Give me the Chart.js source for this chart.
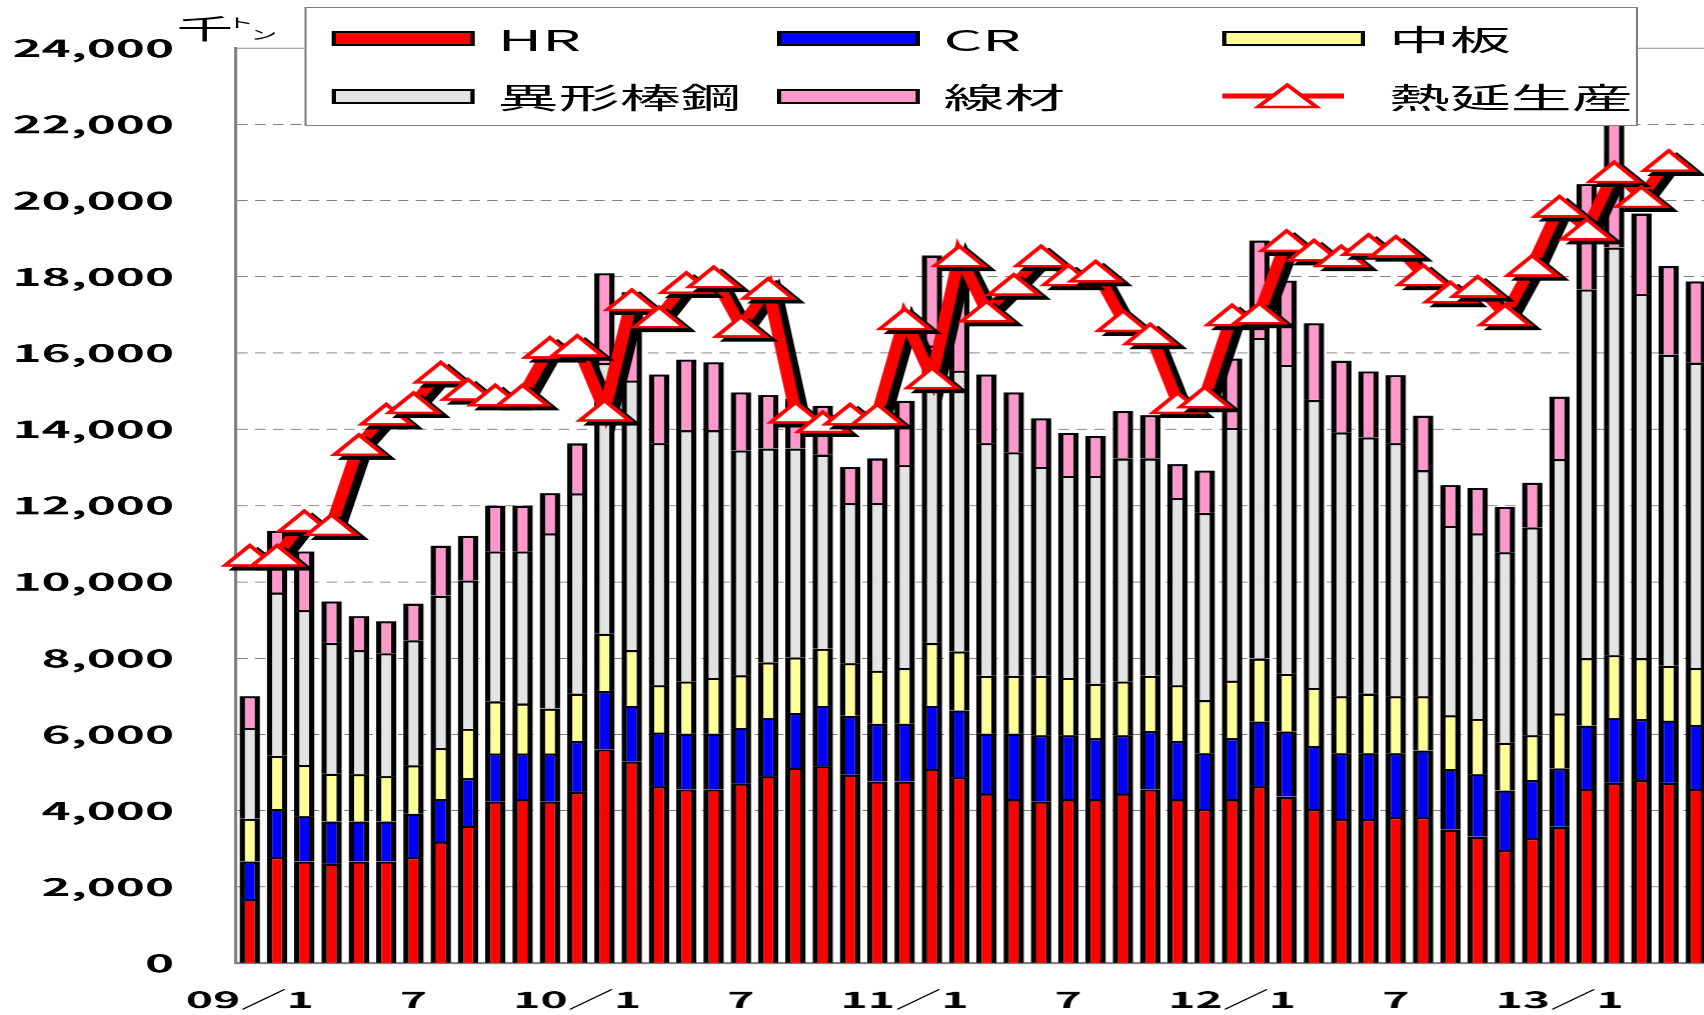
<!DOCTYPE html>
<html lang="ja">
<head>
<meta charset="utf-8">
<script src="https://cdn.jsdelivr.net/npm/chart.js@4.4.1/dist/chart.umd.min.js"></script>
<style>
  html, body { margin: 0; padding: 0; width: 1704px; height: 1015px; overflow: hidden; background: #fff; }
  /* the original chart is stretched sideways, so the whole stage is drawn narrow and scaled in x */
  #stage { position: absolute; left: 0; top: 0; width: 816px; height: 1015px;
           transform: scaleX(2.1); transform-origin: 0 0;
           font-family: "Noto Sans CJK JP", sans-serif; color: #000; }
  #chart { position: absolute; left: 0; top: 0; }
  #unit { position: absolute; left: 84px; top: 14px; font-size: 27px; line-height: 27px; }
  #unit span { position: absolute; font-size: 13px; line-height: 13px; }
  #legend { position: absolute; left: 145.4px; top: 6.5px; width: 634.5px; height: 119.5px;
            box-sizing: border-box; border: 1px solid #808080; background: #fff;
            display: grid; grid-template-columns: repeat(3, 212.2px); grid-template-rows: 58px 58px;
            padding: 1.5px 0 0 11.5px; }
  .item { display: flex; align-items: center; }
  .swatch { width: 68.2px; height: 15px; box-sizing: border-box; border: 2px solid #000; border-width: 2.5px 2px; }
  .label { margin-left: 11px; font-size: 29px; line-height: 1; white-space: nowrap; }
</style>
</head>
<body>
<div id="stage">
  <canvas id="chart" width="816" height="1015"></canvas>
  <div id="unit">千<span style="left:24px;top:1px">ト</span><span style="left:35px;top:13px">ン</span></div>
  <div id="legend"></div>
</div>
<script>
// 月 (09/1 ～ 13/6)
const categories = [
  '09/1','09/2','09/3','09/4','09/5','09/6','09/7','09/8','09/9','09/10','09/11','09/12',
  '10/1','10/2','10/3','10/4','10/5','10/6','10/7','10/8','10/9','10/10','10/11','10/12',
  '11/1','11/2','11/3','11/4','11/5','11/6','11/7','11/8','11/9','11/10','11/11','11/12',
  '12/1','12/2','12/3','12/4','12/5','12/6','12/7','12/8','12/9','12/10','12/11','12/12',
  '13/1','13/2','13/3','13/4','13/5','13/6'
];
// 軸に出す目盛ラベル
const xTickLabels = {
  '09/1': '09／1', '09/7': '7', '10/1': '10／1', '10/7': '7', '11/1': '11／1',
  '11/7': '7', '12/1': '12／1', '12/7': '7', '13/1': '13／1'
};

// 千トン
const hr = [1690, 2780, 2670, 2610, 2670, 2670, 2780, 3190, 3600, 4240, 4300, 4240,
  4490, 5610, 5290, 4640, 4560, 4560, 4710, 4910, 5120, 5170, 4940, 4770,
  4770, 5100, 4880, 4450, 4300, 4240, 4300, 4300, 4450, 4560, 4300, 4040,
  4300, 4640, 4370, 4040, 3780, 3780, 3830, 3830, 3510, 3320, 2970, 3280,
  3580, 4570, 4730, 4800, 4730, 4570];
const cr = [980, 1270, 1190, 1110, 1050, 1050, 1140, 1120, 1250, 1260, 1200, 1260,
  1340, 1530, 1460, 1410, 1460, 1460, 1460, 1520, 1440, 1580, 1550, 1510,
  1510, 1650, 1750, 1570, 1720, 1740, 1680, 1600, 1530, 1530, 1530, 1470,
  1600, 1700, 1710, 1660, 1730, 1730, 1680, 1750, 1590, 1640, 1560, 1520,
  1530, 1660, 1700, 1600, 1630, 1680];
const plate = [1120, 1390, 1340, 1250, 1240, 1190, 1270, 1330, 1300, 1370, 1310, 1180,
  1240, 1500, 1460, 1240, 1370, 1460, 1380, 1460, 1460, 1500, 1380, 1390,
  1460, 1650, 1550, 1520, 1520, 1560, 1500, 1430, 1410, 1450, 1460, 1390,
  1510, 1650, 1510, 1520, 1490, 1560, 1490, 1420, 1400, 1450, 1250, 1180,
  1440, 1770, 1650, 1600, 1440, 1490];
const rebar = [2380, 4280, 4060, 3430, 3250, 3220, 3280, 4000, 3890, 3930, 3990, 4590,
  5250, 7100, 7070, 6350, 6590, 6500, 5900, 5610, 5480, 5090, 4200, 4400,
  5320, 7800, 7360, 6100, 5860, 5480, 5300, 5450, 5850, 5700, 4910, 4910,
  6630, 8410, 8100, 7550, 6920, 6720, 6640, 5930, 4970, 4860, 5000, 5450,
  6670, 9670, 10690, 9550, 8160, 8010];
const wireRod = [830, 1620, 1540, 1090, 890, 840, 960, 1310, 1170, 1200, 1200, 1060,
  1310, 2350, 2320, 1800, 1850, 1780, 1520, 1400, 1300, 1280, 950, 1170,
  1690, 2360, 2400, 1800, 1570, 1270, 1130, 1050, 1240, 1130, 890, 1110,
  1820, 2550, 2210, 2010, 1880, 1730, 1780, 1430, 1070, 1190, 1190, 1170,
  1640, 2760, 3500, 2110, 2320, 2130];
const hotRolled = [10700, 10700, 11600, 11500, 13600, 14400, 14700, 15500, 15050, 14900, 14900, 16150,
  16200, 14500, 17400, 16950, 17850, 18000, 16700, 17700, 14450, 14200, 14400, 14400,
  16900, 15350, 18550, 17100, 17800, 18550, 18050, 18150, 16850, 16500, 14700, 14850,
  17000, 17050, 18950, 18700, 18550, 18850, 18800, 18050, 17600, 17750, 17000, 18300,
  19850, 19250, 20750, 20100, 21050, null];

const yMax = 24000;
const yStep = 2000;

const fontFamily = '"Noto Sans CJK JP", sans-serif';
const clear = 'rgba(0,0,0,0)';

// 白抜き三角マーカー (影が中に入らないよう画像にする)
const triangle = new Image();
triangle.width = 28;
triangle.height = 25;
triangle.src = 'data:image/svg+xml,' + encodeURIComponent(
  '<svg xmlns="http://www.w3.org/2000/svg" width="280" height="250" viewBox="0 0 28 25">' +
  '<polygon points="14,2.7 25.8,22.7 2.2,22.7" fill="#fff" stroke="#f00" stroke-width="2.5"/></svg>');

// 熱延生産の線とマーカーに黒い影を付ける
const lineShadow = {
  id: 'lineShadow',
  beforeDatasetDraw(chart, args) {
    if (chart.data.datasets[args.index].type !== 'line') return;
    const ctx = chart.ctx;
    ctx.save();
    ctx.shadowColor = '#000';
    ctx.shadowBlur = 0;
    ctx.shadowOffsetX = 8;
    ctx.shadowOffsetY = 8;
  },
  afterDatasetDraw(chart, args) {
    if (chart.data.datasets[args.index].type !== 'line') return;
    chart.ctx.restore();
  }
};

function barSet(label, data, color) {
  return {
    type: 'bar',
    label: label,
    data: data,
    backgroundColor: color,
    borderColor: '#000',
    borderWidth: { top: 2.2, left: 2.6, right: 2.6, bottom: 0 },
    borderSkipped: 'start',
    barPercentage: 0.75,
    categoryPercentage: 1,
    order: 1
  };
}

function buildChart(marker) {
  const chart = new Chart(document.getElementById('chart'), {
    data: {
      labels: categories,
      datasets: [
        barSet('HR', hr, '#ff0000'),
        barSet('CR', cr, '#0000ff'),
        barSet('中板', plate, '#ffff99'),
        barSet('異形棒鋼', rebar, '#e3e3e3'),
        barSet('線材', wireRod, '#ff99cc'),
        {
          type: 'line',
          label: '熱延生産',
          data: hotRolled,
          stack: 'line',
          borderColor: '#ff0000',
          borderWidth: 6,
          tension: 0,
          pointStyle: marker,
          pointRadius: 15,
          pointBorderWidth: 2.5,
          pointBackgroundColor: '#ffffff',
          pointBorderColor: '#ff0000',
          order: 0
        }
      ]
    },
    options: {
      responsive: false,
      animation: false,
      devicePixelRatio: 2.1,
      layout: { autoPadding: false, padding: { top: 48, right: 2.2, bottom: 0, left: 0 } },
      plugins: { legend: { display: false }, tooltip: { enabled: false } },
      scales: {
        x: {
          stacked: true,
          offset: true,
          grid: { display: true, color: clear, drawTicks: true, tickLength: 23, tickColor: clear },
          border: { display: true, color: '#808080', width: 2 },
          ticks: {
            autoSkip: false,
            maxRotation: 0,
            padding: 0,
            color: '#000',
            font: { family: fontFamily, size: 22, weight: 'bold' },
            callback: (v, i) => xTickLabels[categories[i]] || ''
          },
          afterFit: s => { s.height = 52; }
        },
        y: {
          stacked: true,
          min: 0,
          max: yMax,
          ticks: {
            stepSize: yStep,
            padding: 29.5,
            color: '#000',
            font: { family: fontFamily, size: 23.5, weight: 'bold' },
            callback: v => v.toLocaleString('en-US')
          },
          grid: { color: '#808080', lineWidth: 1, drawTicks: false },
          border: {
            display: true, color: '#808080', width: 1.5,
            dash: c => (c.tick && c.tick.value === yMax) ? [] : [5, 3.5]
          },
          afterFit: s => { s.width = 112.4; }
        }
      }
    },
    plugins: [lineShadow]
  });

  // 凡例 (HTML)
  const legendEl = document.getElementById('legend');
  chart.data.datasets.forEach(ds => {
    const item = document.createElement('div');
    item.className = 'item';
    let sym;
    if (ds.type === 'line') {
      sym = document.createElementNS('http://www.w3.org/2000/svg', 'svg');
      sym.setAttribute('width', '68.2');
      sym.setAttribute('height', '26');
      sym.innerHTML =
        '<line x1="0" y1="13" x2="58" y2="13" stroke="' + ds.borderColor + '" stroke-width="5"/>' +
        '<polygon points="31,2 45,24 17,24" fill="#fff" stroke="' + ds.pointBorderColor + '" stroke-width="2.5"/>';
    } else {
      sym = document.createElement('div');
      sym.className = 'swatch';
      sym.style.background = ds.backgroundColor;
    }
    const txt = document.createElement('span');
    txt.className = 'label';
    txt.textContent = ds.label;
    item.appendChild(sym);
    item.appendChild(txt);
    legendEl.appendChild(item);
  });
}

triangle.onload = () => buildChart(triangle);
triangle.onerror = () => buildChart('triangle');
</script>
</body>
</html>
